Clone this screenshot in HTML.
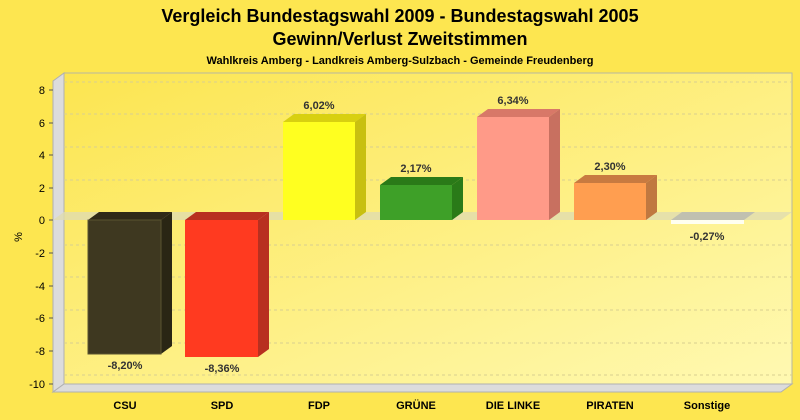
<!DOCTYPE html>
<html><head><style>body{margin:0;background:#fde650}svg{display:block}</style></head><body>
<svg width="800" height="420" xmlns="http://www.w3.org/2000/svg" font-family="Liberation Sans, sans-serif">
<defs>
<linearGradient id="bg" x1="0" y1="0" x2="1" y2="1"><stop offset="0" stop-color="#fce550"/><stop offset="1" stop-color="#fff9b2"/></linearGradient>
</defs>
<rect width="800" height="420" fill="#fde650"/>
<text x="400" y="22" text-anchor="middle" font-size="18" font-weight="bold">Vergleich Bundestagswahl 2009 - Bundestagswahl 2005</text>
<text x="400" y="45" text-anchor="middle" font-size="18" font-weight="bold">Gewinn/Verlust Zweitstimmen</text>
<text x="400" y="64" text-anchor="middle" font-size="11" font-weight="bold">Wahlkreis Amberg - Landkreis Amberg-Sulzbach - Gemeinde Freudenberg</text>
<rect x="64" y="73" width="728" height="311" fill="url(#bg)" stroke="#b8b8a0"/>
<polygon points="53,81 64,73 64,384 53,392" fill="#dcdcdc" stroke="#b0b0b0"/>
<polygon points="53,392 64,384 792,384 781,392" fill="#dcdcdc" stroke="#b0b0b0"/>
<g stroke="#d8cf90" stroke-dasharray="3,3">
<line x1="64" y1="82" x2="792" y2="82"/><line x1="64" y1="114" x2="792" y2="114"/><line x1="64" y1="147" x2="792" y2="147"/><line x1="64" y1="180" x2="792" y2="180"/>
<line x1="64" y1="245" x2="792" y2="245"/><line x1="64" y1="277" x2="792" y2="277"/><line x1="64" y1="310" x2="792" y2="310"/><line x1="64" y1="343" x2="792" y2="343"/><line x1="64" y1="375" x2="792" y2="375"/>
</g>
<polygon points="53,220 64,212 792,212 781,220" fill="#e0dcb0" opacity="0.8"/>
<g font-size="11" text-anchor="end">
<text x="45" y="94">8</text><text x="45" y="127">6</text><text x="45" y="159">4</text><text x="45" y="192">2</text><text x="45" y="224">0</text>
<text x="45" y="257">-2</text><text x="45" y="290">-4</text><text x="45" y="322">-6</text><text x="45" y="355">-8</text><text x="45" y="388">-10</text>
</g>
<g stroke="#555"><line x1="49" y1="90" x2="53" y2="90"/><line x1="49" y1="123" x2="53" y2="123"/><line x1="49" y1="155" x2="53" y2="155"/><line x1="49" y1="188" x2="53" y2="188"/><line x1="49" y1="220" x2="53" y2="220"/><line x1="49" y1="253" x2="53" y2="253"/><line x1="49" y1="286" x2="53" y2="286"/><line x1="49" y1="318" x2="53" y2="318"/><line x1="49" y1="351" x2="53" y2="351"/><line x1="49" y1="384" x2="53" y2="384"/></g>
<text x="22" y="237" font-size="11" transform="rotate(-90 22 237)" text-anchor="middle">%</text>
<!-- bars -->
<g>
<polygon points="88,220 99,212 172,212 161,220" fill="#302a18"/><polygon points="161,220 172,212 172,346 161,354" fill="#2a2614"/><rect x="88" y="220" width="73" height="134" fill="#3e3820" stroke="#5a5430"/>
<polygon points="185,220 196,212 269,212 258,220" fill="#b83020"/><polygon points="258,220 269,212 269,349 258,357" fill="#b83020"/><rect x="185" y="220" width="73" height="137" fill="#ff3a20"/>
<polygon points="283,122 294,114 366,114 355,122" fill="#d8d010"/><polygon points="355,122 366,114 366,212 355,220" fill="#c8c010"/><rect x="283" y="122" width="72" height="98" fill="#ffff20"/>
<polygon points="380,185 391,177 463,177 452,185" fill="#2a7a18"/><polygon points="452,185 463,177 463,212 452,220" fill="#2a7a18"/><rect x="380" y="185" width="72" height="35" fill="#3ea028"/>
<polygon points="477,117 488,109 560,109 549,117" fill="#d87868"/><polygon points="549,117 560,109 560,212 549,220" fill="#c87060"/><rect x="477" y="117" width="72" height="103" fill="#ff9a88"/>
<polygon points="574,183 585,175 657,175 646,183" fill="#c87a40"/><polygon points="646,183 657,175 657,212 646,220" fill="#c07840"/><rect x="574" y="183" width="72" height="37" fill="#ff9e50"/>
<polygon points="671,220 682,212 755,212 744,220" fill="#c0c0b0"/><rect x="671" y="220" width="73" height="4" fill="#fffff0"/>
</g>
<g font-size="11" font-weight="bold" fill="#333" text-anchor="middle">
<text x="125" y="369">-8,20%</text><text x="222" y="372">-8,36%</text><text x="319" y="109">6,02%</text><text x="416" y="172">2,17%</text>
<text x="513" y="104">6,34%</text><text x="610" y="170">2,30%</text><text x="707" y="240">-0,27%</text>
</g>
<g font-size="11" font-weight="bold" text-anchor="middle">
<text x="125" y="409">CSU</text><text x="222" y="409">SPD</text><text x="319" y="409">FDP</text><text x="416" y="409">GRÜNE</text><text x="513" y="409">DIE LINKE</text><text x="610" y="409">PIRATEN</text><text x="707" y="409">Sonstige</text>
</g>
</svg>
</body></html>
